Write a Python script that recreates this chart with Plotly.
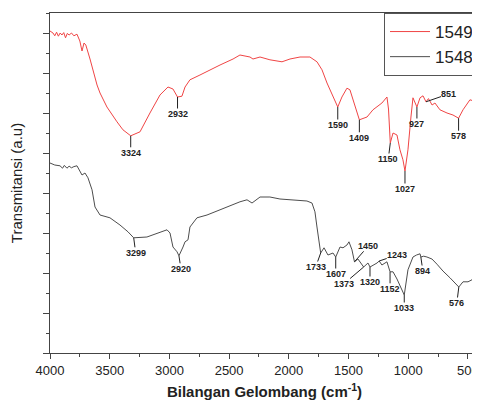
import numpy as np
import plotly.graph_objects as go

# ---- data (wavenumber cm-1, transmittance a.u.) ----
wn_1549 = [4000, 3975, 3960, 3945, 3930, 3915, 3900, 3885, 3870, 3855, 3840, 3820, 3800, 3774, 3750, 3732, 3715, 3700,
           3665, 3640, 3606, 3581, 3523, 3439, 3389, 3324, 3246, 3163, 3079, 3012, 2970, 2932, 2895, 2869, 2828,
           2744, 2660, 2576, 2467, 2409, 2325, 2300, 2241, 2158, 2057, 1990, 1906, 1823, 1764, 1722, 1680, 1638,
           1590, 1555, 1513, 1488, 1446, 1409, 1345, 1295, 1220, 1178, 1165, 1150, 1127, 1094, 1069, 1044, 1027,
           1002, 977, 960, 927, 901, 876, 851, 830, 800, 776, 734, 675, 625, 578, 541, 483, 450, 424, 400]
tr_1549 = [8.05, 8.00, 7.93, 8.02, 7.92, 8.00, 7.95, 8.01, 7.88, 7.99, 7.95, 8.00, 7.93, 7.97, 7.80, 7.55, 7.75, 7.70,
           7.35, 7.05, 6.70, 6.50, 6.15, 5.78, 5.58, 5.43, 5.53, 6.00, 6.45, 6.65, 6.60, 6.40, 6.42, 6.65, 6.83,
           6.95, 7.08, 7.20, 7.35, 7.45, 7.40, 7.35, 7.40, 7.33, 7.28, 7.35, 7.40, 7.40, 7.28, 7.08, 6.75, 6.45,
           6.15, 6.40, 6.62, 6.58, 6.15, 5.83, 5.90, 6.08, 6.25, 6.40, 6.10, 5.25, 5.50, 5.45, 5.08, 4.83, 4.55,
           5.08, 5.90, 6.38, 6.15, 6.38, 6.43, 6.28, 6.36, 6.20, 6.25, 6.08, 6.00, 5.95, 5.87, 6.08, 6.33, 6.30, 6.35, 6.28]

wn_1548 = [4000, 3960, 3916, 3895, 3880, 3858, 3840, 3820, 3800, 3774, 3732, 3707, 3682, 3648, 3623, 3581, 3498,
           3414, 3347, 3299, 3188, 3104, 3020, 2995, 2970, 2936, 2920, 2886, 2869, 2844, 2828, 2769, 2685, 2576,
           2409, 2350, 2308, 2241, 2158, 2074, 1990, 1848, 1806, 1781, 1764, 1747, 1733, 1705, 1672, 1630, 1607,
           1571, 1546, 1513, 1496, 1471, 1450, 1421, 1373, 1337, 1320, 1261, 1243, 1220, 1178, 1152, 1127, 1094,
           1069, 1033, 1002, 960, 930, 901, 894, 870, 843, 801, 759, 709, 650, 608, 576, 541, 499, 466, 441, 424, 407]
tr_1548 = [4.75, 4.70, 4.68, 4.62, 4.69, 4.62, 4.67, 4.63, 4.66, 4.68, 4.45, 4.50, 4.38, 4.08, 3.65, 3.45, 3.38,
           3.20, 3.03, 2.88, 2.90, 3.00, 3.08, 3.00, 2.65, 2.53, 2.43, 2.65, 2.78, 2.83, 3.15, 3.38, 3.45, 3.58,
           3.78, 3.83, 3.75, 3.90, 3.90, 3.85, 3.83, 3.80, 3.75, 3.53, 3.15, 2.75, 2.50, 2.63, 2.45, 2.50, 2.40,
           2.65, 2.63, 2.70, 2.78, 2.58, 2.28, 2.35, 2.15, 2.25, 2.15, 2.25, 2.30, 2.20, 2.28, 2.03, 2.03, 1.85,
           1.70, 1.45, 2.08, 2.40, 2.45, 2.48, 2.40, 2.42, 2.40, 2.35, 2.22, 2.05, 1.88, 1.75, 1.65, 1.78, 1.78, 1.83, 1.75, 1.72, 1.65]

# peak labels: (wavenumber, ax, ay)
peaks_1549 = [(3324, 0, 17), (2932, 0, 17), (1590, 0, 18), (1409, 0, 18), (1150, -2, 16),
              (1027, 0, 18), (927, 0, 17), (851, 23, -8), (578, 0, 18)]
peaks_1548 = [(3299, 2, 15), (2920, 2, 13), (1733, -5, 14), (1607, 0, 17), (1450, 14, -16),
              (1373, -20, 17), (1320, 0, 15), (1243, 18, -6), (1152, 0, 17), (1033, 0, 13),
              (894, 2, 14), (576, -2, 16)]

FONT = "Liberation Sans, Arial, sans-serif"

fig = go.Figure()
fig.add_trace(go.Scatter(x=wn_1549, y=tr_1549, mode="lines", name="1549",
                         line=dict(color="#f04545", width=1)))
fig.add_trace(go.Scatter(x=wn_1548, y=tr_1548, mode="lines", name="1548",
                         line=dict(color="#4d4d4d", width=1)))

def add_labels(wn, tr, peaks):
    xs = np.array(wn[::-1], dtype=float)
    ys = np.array(tr[::-1], dtype=float)
    for p, ax, ay in peaks:
        yv = float(np.interp(p, xs, ys))
        fig.add_annotation(x=p, y=yv, text=f"<b>{p}</b>", showarrow=True, arrowhead=0,
                           arrowwidth=1, arrowcolor="#222", ax=ax, ay=ay,
                           font=dict(family=FONT, size=9, color="#222"), borderpad=0)

add_labels(wn_1549, tr_1549, peaks_1549)
add_labels(wn_1548, tr_1548, peaks_1548)

fig.update_layout(
    width=472, height=392,
    margin=dict(l=42, r=1, t=5, b=47),
    paper_bgcolor="white", plot_bgcolor="white",
    font=dict(family=FONT, color="#222"),
    showlegend=True,
    legend=dict(x=1, y=1, xanchor="right", yanchor="top",
                bordercolor="#555", borderwidth=1, bgcolor="white",
                font=dict(family=FONT, size=17, color="#222"),
                itemwidth=40, tracegroupgap=0),
)
fig.update_xaxes(
    range=[4000, 407], showgrid=False, zeroline=False, automargin=False,
    showline=True, linecolor="#444", linewidth=1, mirror=True,
    ticks="outside", ticklen=5, tickcolor="#444", tickwidth=1,
    tickvals=[4000, 3500, 3000, 2500, 2000, 1500, 1000, 500],
    tickfont=dict(family=FONT, size=13, color="#222"),
    minor=dict(ticks="outside", ticklen=3, dtick=250, tick0=500, tickcolor="#444"),
    title=dict(text="<b>Bilangan Gelombang (cm<sup>-1</sup>)</b>",
               font=dict(family=FONT, size=15, color="#222"), standoff=14),
)
fig.update_yaxes(
    range=[0, 8.5], showgrid=False, zeroline=False, automargin=False,
    showline=True, linecolor="#444", linewidth=1, mirror=True,
    ticks="outside", ticklen=6, tickcolor="#444", tickwidth=1,
    dtick=1, tick0=0, showticklabels=False,
    minor=dict(ticks="outside", ticklen=3, dtick=0.5, tick0=0, tickcolor="#444"),
    title=dict(text="Transmitansi (a.u)", font=dict(family=FONT, size=15, color="#222"), standoff=22),
)

fig.write_html("out.html")
